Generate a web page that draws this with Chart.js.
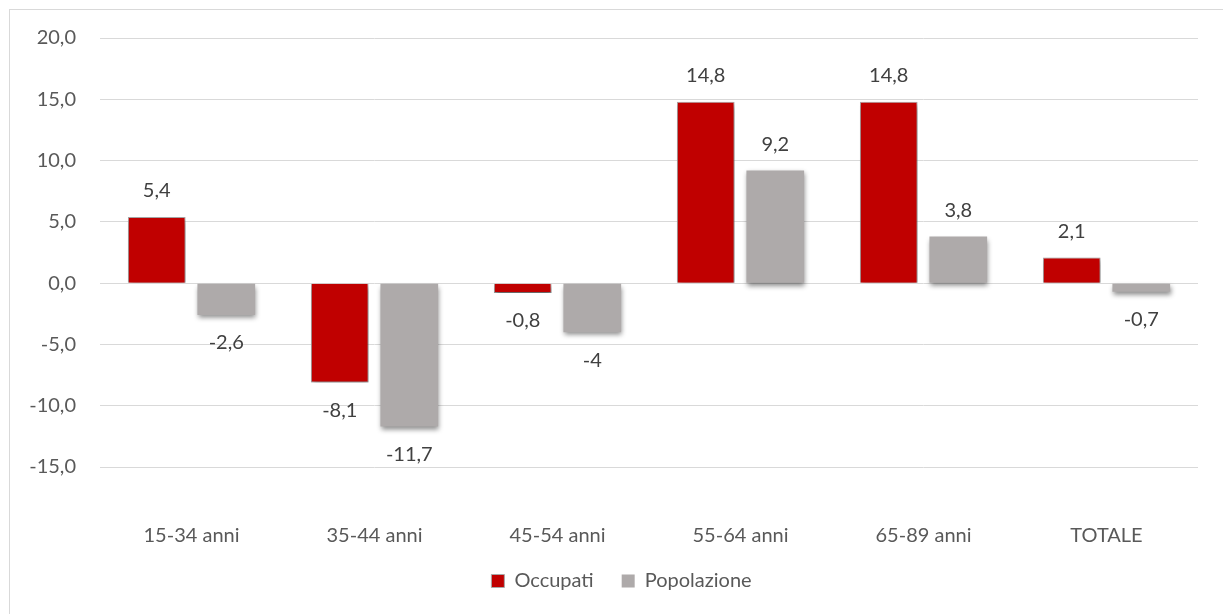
<!DOCTYPE html>
<html>
<head>
<meta charset="utf-8">
<script src="https://cdn.jsdelivr.net/npm/chart.js@4/dist/chart.umd.min.js"></script>
<style>
  html, body { margin: 0; padding: 0; background: #ffffff; }
  #wrap { position: relative; width: 1223px; height: 614px; overflow: hidden; }
  #frame { position: absolute; left: 9px; top: 9px; width: 1300px; height: 700px;
           border-left: 1px solid #d9d9d9; border-top: 1px solid #d9d9d9; box-sizing: border-box; }
  canvas { position: absolute; left: 0; top: 0; }
</style>
</head>
<body>
<div id="wrap">
  <div id="frame"></div>
  <canvas id="c" width="1223" height="614"></canvas>
</div>
<script>
// Variazione percentuale per classe di età
const categories = ['15-34 anni', '35-44 anni', '45-54 anni', '55-64 anni', '65-89 anni', 'TOTALE'];
const occupati = [5.4, -8.1, -0.8, 14.8, 14.8, 2.1];
const popolazione = [-2.6, -11.7, -4, 9.2, 3.8, -0.7];
const seriesNames = ['Occupati', 'Popolazione'];
const yTicks = [-15, -10, -5, 0, 5, 10, 15, 20];

const FONT = 'Lato, "Liberation Sans", sans-serif';
const fmt = v => String(v).replace('.', ',');

// Soft drop shadow under the bars
const barShadow = {
  id: 'barShadow',
  beforeDatasetsDraw(chart) {
    const ctx = chart.ctx;
    ctx.save();
    ctx.shadowColor = 'rgba(0,0,0,0.45)';
    ctx.shadowBlur = 5;
    ctx.shadowOffsetX = 1;
    ctx.shadowOffsetY = 3;
  },
  afterDatasetsDraw(chart) {
    chart.ctx.restore();
  }
};

// Value labels outside the end of each bar
const valueLabels = {
  id: 'valueLabels',
  afterDatasetsDraw(chart) {
    const ctx = chart.ctx;
    ctx.save();
    ctx.font = '20px ' + FONT;
    ctx.fillStyle = '#404040';
    ctx.textAlign = 'center';
    ctx.textBaseline = 'middle';
    chart.data.datasets.forEach((ds, di) => {
      chart.getDatasetMeta(di).data.forEach((bar, i) => {
        const v = ds.data[i];
        const y = v >= 0 ? bar.y - 26 : bar.y + 28;
        ctx.fillText(fmt(v), bar.x, y);
      });
    });
    ctx.restore();
  }
};

// Centre the legend inside the framed region (frame starts 10px in)
const legendShift = {
  id: 'legendShift',
  afterLayout(chart) {
    const lg = chart.legend;
    const dx = (chart.width + 20) / 2 - (lg.left + lg.right) / 2;
    lg.left += dx;
    lg.right += dx;
  }
};

new Chart(document.getElementById('c'), {
  type: 'bar',
  data: {
    labels: categories,
    datasets: [
      { label: seriesNames[0], data: occupati, backgroundColor: '#c00000', borderColor: '#a8a8a8', borderWidth: 1 },
      { label: seriesNames[1], data: popolazione, backgroundColor: '#aeaaaa', borderColor: '#aeaaaa', borderWidth: 0 }
    ]
  },
  options: {
    responsive: false,
    animation: false,
    devicePixelRatio: 1,
    categoryPercentage: 0.76,
    barPercentage: 0.83,
    layout: { padding: { left: 0, right: 25, top: 38, bottom: 13 } },
    plugins: {
      legend: {
        position: 'bottom',
        labels: {
          font: { family: FONT, size: 20 },
          color: '#595959',
          boxWidth: 13,
          boxHeight: 13,
          padding: 28
        }
      },
      tooltip: { enabled: false }
    },
    scales: {
      x: {
        grid: { display: false },
        border: { display: false },
        ticks: { font: { family: FONT, size: 20 }, color: '#595959', padding: 49 },
        afterFit(scale) { scale.height = 76; }
      },
      y: {
        min: -15,
        max: 20,
        afterBuildTicks(scale) { scale.ticks = yTicks.map(v => ({ value: v })); },
        grid: { color: '#d9d9d9', lineWidth: 1, drawTicks: false },
        border: { display: false },
        ticks: {
          font: { family: FONT, size: 20 },
          color: '#595959',
          padding: 24,
          callback: v => v.toFixed(1).replace('.', ',')
        },
        afterFit(scale) { scale.width = 100; }
      }
    }
  },
  plugins: [barShadow, valueLabels, legendShift]
});
</script>
</body>
</html>
